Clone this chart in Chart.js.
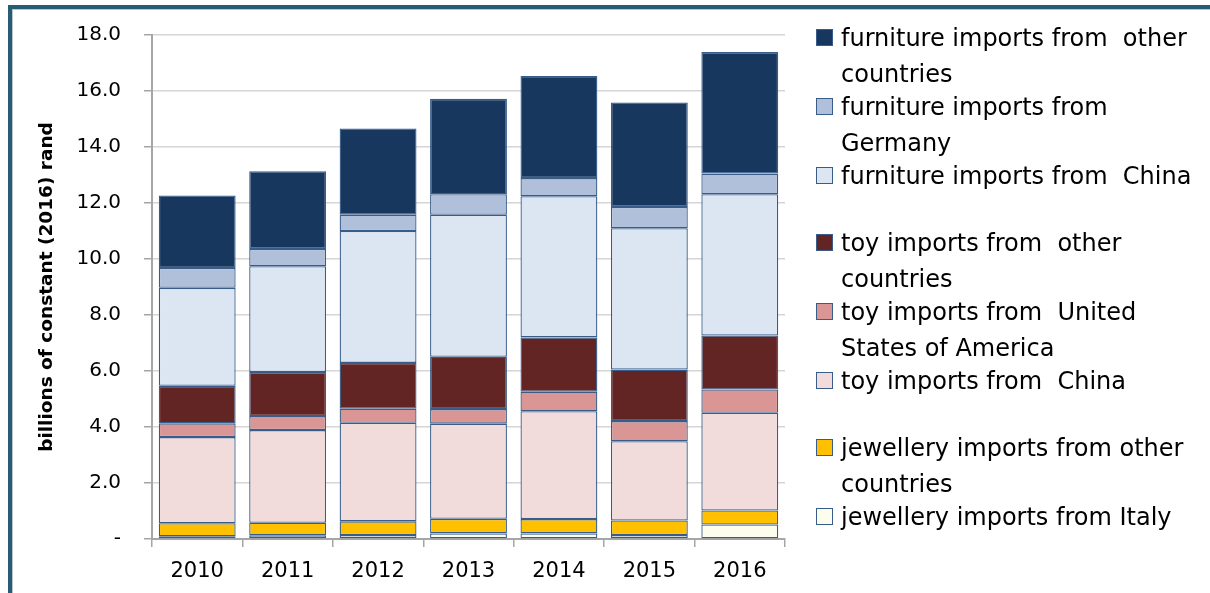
<!DOCTYPE html>
<html>
<head>
<meta charset="utf-8">
<script src="https://cdn.jsdelivr.net/npm/chart.js@4.4.0/dist/chart.umd.min.js"></script>
<style>
html,body{margin:0;padding:0;background:#fff;}
#wrap{position:relative;width:1210px;height:593px;overflow:hidden;background:#fff;}
#frame{position:absolute;left:8px;top:5px;width:1300px;height:700px;border-left:4px solid #285b74;border-top:4px solid #285b74;box-shadow:inset 1px 1px 0 #b9c5cb;}
canvas{position:absolute;left:0;top:0;}
</style>
</head>
<body>
<div id="wrap"><div id="frame"></div><canvas id="c" width="1210" height="593"></canvas></div>
<script>
// ---- data ----
const years = ['2010', '2011', '2012', '2013', '2014', '2015', '2016'];
const yTickLabels = ['-', '2.0', '4.0', '6.0', '8.0', '10.0', '12.0', '14.0', '16.0', '18.0'];
const yAxisTitle = 'billions of constant (2016) rand';

const jewelleryItaly   = [0.10, 0.13, 0.14, 0.20, 0.20, 0.14, 0.52];
const jewelleryOther   = [0.46, 0.45, 0.49, 0.52, 0.51, 0.52, 0.50];
const toyChina         = [3.08, 3.31, 3.52, 3.40, 3.85, 2.83, 3.49];
const toyUSA           = [0.49, 0.50, 0.50, 0.52, 0.70, 0.72, 0.83];
const toyOther         = [1.34, 1.57, 1.64, 1.87, 1.94, 1.84, 1.93];
const furnitureChina   = [3.50, 3.78, 4.71, 5.07, 5.04, 5.05, 5.04];
const furnitureGermany = [0.71, 0.62, 0.58, 0.73, 0.65, 0.76, 0.74];
const furnitureOther   = [2.59, 2.77, 3.08, 3.41, 3.65, 3.73, 4.34];

const seriesNames = [
  ['jewellery imports from Italy'],
  ['jewellery imports from other', 'countries'],
  ['toy imports from  China'],
  ['toy imports from  United', 'States of America'],
  ['toy imports from  other', 'countries'],
  ['furniture imports from  China'],
  ['furniture imports from', 'Germany'],
  ['furniture imports from  other', 'countries']
];
const seriesValues = [jewelleryItaly, jewelleryOther, toyChina, toyUSA, toyOther, furnitureChina, furnitureGermany, furnitureOther];
const seriesColors = ['#FDFDEE', '#FFC000', '#F2DCDB', '#D99694', '#632523', '#DCE6F2', '#B0C0DA', '#17375E'];
const barBorder = '#385D8A';

const FONT = 'DejaVu Sans';

const datasets = seriesValues.map((vals, i) => ({
  label: seriesNames[i].join(' '),
  legendLines: seriesNames[i],
  data: vals,
  backgroundColor: seriesColors[i],
  borderColor: barBorder,
  borderWidth: 1.3,
  borderSkipped: false,
  barPercentage: 0.85,
  categoryPercentage: 1.0
}));

const sideLegend = {
  id: 'sideLegend',
  afterDraw(chart, args, o) {
    const ctx = chart.ctx;
    const ds = chart.data.datasets.slice().reverse();
    ctx.save();
    ctx.font = o.size + 'px "' + FONT + '"';
    ctx.textBaseline = 'alphabetic';
    ctx.textAlign = 'left';
    let y = o.top;
    let prev = null;
    ds.forEach(d => {
      const group = d.label.split(' ')[0];
      if (prev !== null) {
        y += o.itemGap;
        if (group !== prev) y += o.groupGap;
      }
      prev = group;
      ctx.fillStyle = d.backgroundColor;
      ctx.fillRect(o.boxX, y - o.box, o.box, o.box);
      ctx.strokeStyle = d.borderColor;
      ctx.lineWidth = 1;
      ctx.strokeRect(o.boxX + 0.5, y - o.box + 0.5, o.box - 1, o.box - 1);
      ctx.fillStyle = '#000';
      d.legendLines.forEach((line, j) => {
        if (j > 0) y += o.lineGap;
        ctx.fillText(line, o.textX, y);
      });
    });
    ctx.restore();
  }
};

new Chart(document.getElementById('c'), {
  type: 'bar',
  data: { labels: years, datasets },
  plugins: [sideLegend],
  options: {
    responsive: false,
    devicePixelRatio: 1,
    animation: false,
    layout: { padding: { top: 33, right: 425, bottom: 0, left: 0 } },
    plugins: {
      legend: { display: false },
      tooltip: { enabled: false },
      sideLegend: { top: 46, itemGap: 33, lineGap: 36, groupGap: 34, boxX: 816, box: 17, textX: 841, size: 24 }
    },
    scales: {
      x: {
        stacked: true,
        offset: true,
        grid: { display: true, drawOnChartArea: false, drawTicks: true, tickLength: 8, color: '#a6a6a6', lineWidth: 1.5, offset: true },
        border: { color: '#a6a6a6', width: 2 },
        ticks: { color: '#000', font: { family: FONT, size: 21 }, padding: 12, maxRotation: 0 },
        afterFit(s) { s.height = 54; }
      },
      y: {
        stacked: true,
        min: 0,
        max: 18,
        ticks: {
          stepSize: 2,
          color: '#000',
          font: { family: FONT, size: 20 },
          padding: 23,
          callback: (v, i) => yTickLabels[i]
        },
        grid: { color: '#d6d6d6', lineWidth: 1.5, tickColor: '#a6a6a6', tickLength: 8 },
        border: { color: '#a6a6a6', width: 2 },
        title: {
          display: true,
          text: yAxisTitle,
          color: '#000',
          font: { family: FONT, size: 18.5, weight: 'bold' },
          padding: { top: 36, bottom: 0 }
        },
        afterFit(s) { s.width = 152; }
      }
    }
  }
});
</script>
</body>
</html>
